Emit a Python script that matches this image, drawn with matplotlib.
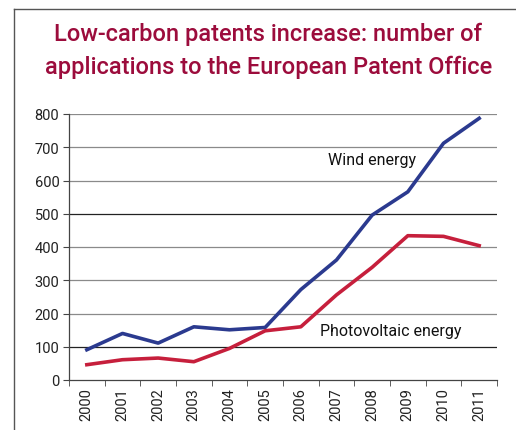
import numpy as np
import matplotlib
matplotlib.use("Agg")
import matplotlib.pyplot as plt
from matplotlib.lines import Line2D

plt.rcParams["font.family"] = ["Roboto", "DejaVu Sans"]

# ── data ────────────────────────────────────────────────────────────────────
years = ["2000", "2001", "2002", "2003", "2004", "2005",
         "2006", "2007", "2008", "2009", "2010", "2011"]
wind = [91, 140, 111, 160, 151, 158, 272, 361, 496, 566, 712, 787]
photovoltaic = [46, 61, 66, 55, 95, 148, 160, 256, 339, 434, 432, 404]

BLUE = "#2b3a8f"
RED = "#c61f3c"
TITLE = "#9c0c3c"

fig = plt.figure(figsize=(5.16, 4.31), dpi=100)
ax = fig.add_axes([69 / 516, 50 / 431, 428 / 516, 266 / 431])

x = np.arange(len(years))
ax.plot(x, wind, color=BLUE, lw=2.6, solid_joinstyle="round", zorder=3)
ax.plot(x, photovoltaic, color=RED, lw=2.6, solid_joinstyle="round", zorder=3)

ax.set_xlim(-0.5, len(years) - 0.5)
ax.set_ylim(0, 800)
ax.set_yticks(range(0, 801, 100))
for v in range(100, 801, 100):
    ax.axhline(v, color="#222222" if v in (100, 500) else "#8a8a8a",
               lw=0.9, zorder=1)

ax.set_xticks(x)
ax.set_xticklabels(years, rotation=90, fontsize=10.5, color="#222222")
ax.tick_params(axis="x", length=0, pad=5)
ax.set_xticks(np.arange(-0.5, len(years)), minor=True)
ax.tick_params(axis="x", which="minor", length=4, color="#444444")
ax.tick_params(axis="y", labelsize=10.5, labelcolor="#222222", length=4,
               color="#444444", pad=3)

for s in ["top", "right"]:
    ax.spines[s].set_visible(False)
for s in ["left", "bottom"]:
    ax.spines[s].set_color("#444444")
    ax.spines[s].set_linewidth(0.9)

ax.text(6.75, 662, "Wind energy", fontsize=11.5, color="#111111",
        va="center", ha="left")
ax.text(6.55, 148, "Photovoltaic energy", fontsize=11.5, color="#111111",
        va="center", ha="left")

fig.text(0.52, 0.882, "Low-carbon patents increase: number of\n"
         "applications to the European Patent Office",
         ha="center", va="center", fontsize=17, color=TITLE,
         fontweight="medium", linespacing=1.5)

# outer frame (left and top edges)
fig.add_artist(Line2D([14 / 516, 14 / 516], [0, 1 - 10 / 431],
                      color="#555555", lw=1.0))
fig.add_artist(Line2D([14 / 516, 1], [1 - 10 / 431, 1 - 10 / 431],
                      color="#555555", lw=1.0))

fig.savefig("out.png", dpi=100)
